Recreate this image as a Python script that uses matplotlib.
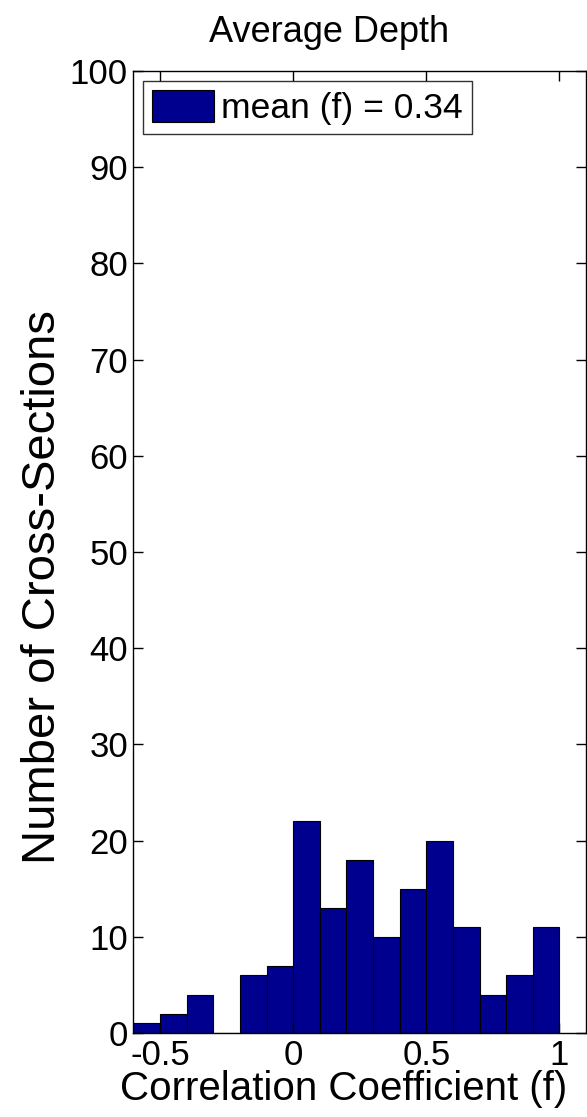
import matplotlib.pyplot as plt

# histogram of correlation coefficients (average depth)
bin_centers = [-0.55, -0.45, -0.35, -0.25, -0.15, -0.05, 0.05, 0.15,
               0.25, 0.35, 0.45, 0.55, 0.65, 0.75, 0.85, 0.95]
counts = [1, 2, 4, 0, 6, 7, 22, 13, 18, 10, 15, 20, 11, 4, 6, 11]
mean_f = 0.34

x_ticks = [-0.5, 0, 0.5, 1]
x_ticklabels = ['-0.5', '0', '0.5', '1']
y_ticks = [0, 10, 20, 30, 40, 50, 60, 70, 80, 90, 100]

plt.rcParams['font.family'] = ['Liberation Sans', 'DejaVu Sans']

fig = plt.figure(figsize=(5.87, 11.17), dpi=100)
ax = fig.add_axes([0.2274, 0.0752, 0.771, 0.8612])

ax.bar(bin_centers, counts, width=0.1, color='#00008F', edgecolor='black',
       linewidth=0.8, label=f'mean (f) = {mean_f:.2f}')

ax.set_xlim(-0.6, 1.1)
ax.set_ylim(0, 100)
ax.set_xticks(x_ticks)
ax.set_xticklabels(x_ticklabels)
ax.set_yticks(y_ticks)
ax.tick_params(direction='in', length=7, width=1, top=True, right=True,
               labelsize=25, pad=4)
for s in ax.spines.values():
    s.set_linewidth(1)

ax.set_xlabel('Correlation Coefficient (f)', fontsize=29, labelpad=0)
ax.xaxis.set_label_coords(0.464, -0.0385)
ax.set_ylabel('Number of Cross-Sections', fontsize=34)
ax.yaxis.set_label_coords(-0.151, 0.4636)
ax.set_title('Average Depth', fontsize=26, x=0.432, pad=21)

leg = ax.legend(loc='upper left', fontsize=25.5, frameon=True, fancybox=False,
                handlelength=1.75, handleheight=1.0, handletextpad=0.2,
                borderpad=0.25, borderaxespad=0.28)
leg.get_frame().set_edgecolor('black')
leg.get_frame().set_linewidth(1)

fig.savefig('out.png', dpi=100)
